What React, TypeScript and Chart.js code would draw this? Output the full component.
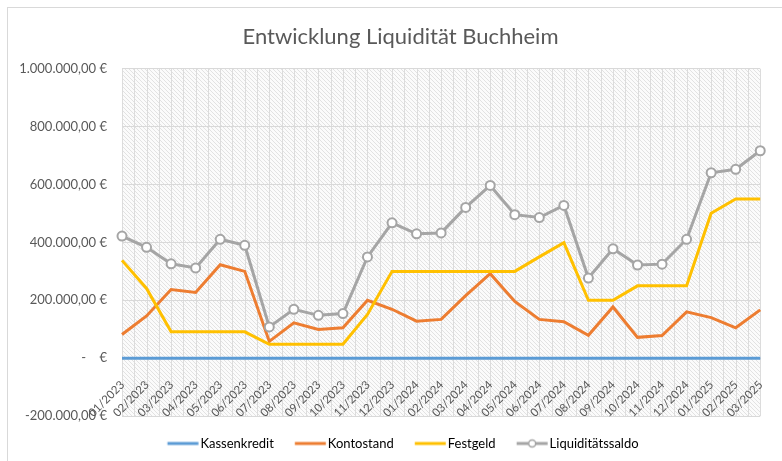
import React, { useEffect, useRef } from 'react';
import { Chart, registerables } from 'chart.js';

Chart.register(...registerables);

const chartTitle = 'Entwicklung Liquidität Buchheim';

const categories = [
  '01/2023', '02/2023', '03/2023', '04/2023', '05/2023', '06/2023', '07/2023', '08/2023', '09/2023',
  '10/2023', '11/2023', '12/2023', '01/2024', '02/2024', '03/2024', '04/2024', '05/2024', '06/2024',
  '07/2024', '08/2024', '09/2024', '10/2024', '11/2024', '12/2024', '01/2025', '02/2025', '03/2025',
];

const seriesNames = ['Kassenkredit', 'Kontostand', 'Festgeld', 'Liquiditätssaldo'];
const seriesColors = ['#5B9BD5', '#ED7D31', '#FFC000', '#A5A5A5'];

const kassenkredit = [0, 0, 0, 0, 0, 0, 0, 0, 0, 0, 0, 0, 0, 0, 0, 0, 0, 0, 0, 0, 0, 0, 0, 0, 0, 0, 0];
const kontostand = [
  82000, 146000, 237000, 227000, 323000, 300000, 58000, 122000, 99000, 105000, 200000, 169000, 128000,
  134000, 216000, 292000, 196000, 134000, 126000, 79000, 177000, 72000, 78000, 160000, 140000, 105000, 167000,
];
const festgeld = [
  338000, 241000, 91000, 91000, 91000, 91000, 48000, 48000, 48000, 48000, 151000, 300000, 300000,
  300000, 300000, 300000, 300000, 350000, 399000, 200000, 200000, 250000, 250000, 250000, 501000, 550000, 550000,
];
const liquiditaetssaldo = [
  422000, 383000, 326000, 312000, 411000, 390000, 108000, 169000, 148000, 154000, 350000, 468000, 430000,
  433000, 521000, 597000, 496000, 486000, 528000, 277000, 378000, 322000, 325000, 411000, 641000, 653000, 717000,
];

const yTickValues = [-200000, 0, 200000, 400000, 600000, 800000, 1000000];
const yTickLabels = ['-200.000,00 €', '-    €', '200.000,00 €', '400.000,00 €', '600.000,00 €', '800.000,00 €', '1.000.000,00 €'];

const FONT = 'Lato, "Open Sans", sans-serif';
const TEXT = '#595959';

// legend icon: line 31px long starting at the item's x (image centered at x + 13.25)
function makeLegendIcon(color: string, withMarker: boolean) {
  const c = document.createElement('canvas');
  c.width = 64;
  c.height = 12;
  const g = c.getContext('2d')!;
  g.strokeStyle = color;
  g.lineWidth = 3;
  g.beginPath();
  g.moveTo(18.75, 6);
  g.lineTo(49.75, 6);
  g.stroke();
  if (withMarker) {
    g.beginPath();
    g.arc(34.25, 6, 3.5, 0, Math.PI * 2);
    g.fillStyle = '#ffffff';
    g.fill();
    g.lineWidth = 1.5;
    g.stroke();
  }
  return c;
}

function makeHatch() {
  const c = document.createElement('canvas');
  c.width = 4;
  c.height = 4;
  const g = c.getContext('2d')!;
  g.fillStyle = '#fbfbfb';
  g.fillRect(0, 0, 4, 4);
  g.fillStyle = '#e2e2e2';
  for (let i = 0; i < 4; i++) g.fillRect(i, i, 1, 1);
  return c;
}

const plotBackground = {
  id: 'plotBackground',
  beforeDraw(chart: any) {
    const { ctx, chartArea } = chart;
    const { left, top, right, bottom } = chartArea;
    ctx.save();
    const pat = ctx.createPattern(makeHatch(), 'repeat');
    ctx.fillStyle = pat;
    ctx.fillRect(left, top, right - left, bottom - top);
    const xs = chart.scales.x;
    const step = (xs.getPixelForValue(1) - xs.getPixelForValue(0)) / 2;
    ctx.strokeStyle = '#dcdcdc';
    ctx.lineWidth = 1;
    for (let x = left; x <= right + 0.5; x += step) {
      const px = Math.round(x) + 0.5;
      ctx.beginPath();
      ctx.moveTo(px, top);
      ctx.lineTo(px, bottom);
      ctx.stroke();
    }
    ctx.restore();
  },
};

// The original chart is wider than the visible crop: centre title and legend as in it
const centerBoxes = {
  id: 'centerBoxes',
  afterLayout(chart: any) {
    const t = chart.titleBlock;
    if (t) {
      t.left = 0;
      t.right = 801;
    }
    const l = chart.legend;
    if (l) {
      l.left = 0;
      l.right = 806;
    }
  },
};

export default function App() {
  const ref = useRef<HTMLCanvasElement>(null);

  useEffect(() => {
    const icons = seriesColors.map((c, i) => makeLegendIcon(c, i === 3));
    const seriesData = [kassenkredit, kontostand, festgeld, liquiditaetssaldo];
    const chart = new Chart(ref.current!, {
      type: 'line',
      data: {
        labels: categories,
        datasets: seriesNames.map((name, i) => ({
          label: name,
          data: seriesData[i],
          borderColor: seriesColors[i],
          backgroundColor: i === 3 ? '#ffffff' : seriesColors[i],
          borderWidth: 3,
          pointRadius: i === 3 ? 4.5 : 0,
          pointBorderWidth: 2,
          pointBorderColor: seriesColors[i],
          pointBackgroundColor: '#ffffff',
          tension: 0,
          order: 4 - i,
        })),
      },
      options: {
        responsive: false,
        animation: false,
        layout: { padding: { left: 0, right: 4, top: 0, bottom: 1 } },
        plugins: {
          title: {
            display: true,
            text: chartTitle,
            color: TEXT,
            font: { family: FONT, size: 22, weight: 'normal' },
            padding: { top: 24, bottom: 18.5 },
          },
          legend: {
            position: 'bottom',
            labels: {
              usePointStyle: true,
              pointStyleWidth: 26.5,
              boxHeight: 13,
              padding: 21,
              color: TEXT,
              font: { family: FONT, size: 13 },
              generateLabels: (ch: any) =>
                ch.data.datasets.map((ds: any, i: number) => ({
                  text: ds.label,
                  pointStyle: icons[i],
                  fillStyle: seriesColors[i],
                  strokeStyle: seriesColors[i],
                  lineWidth: 0,
                  hidden: false,
                  datasetIndex: i,
                })),
            },
          },
          tooltip: { enabled: false },
        },
        scales: {
          x: {
            position: { y: 0 } as any,
            grid: { display: false },
            border: { display: true, color: '#d0d0d0', width: 1 },
            ticks: {
              autoSkip: false,
              minRotation: 45,
              maxRotation: 45,
              color: TEXT,
              font: { family: FONT, size: 11.5 },
              padding: 12,
              labelOffset: 0.5,
            },
          },
          y: {
            min: -200000,
            max: 1000000,
            afterBuildTicks: (s: any) => {
              s.ticks = yTickValues.map((v) => ({ value: v }));
            },
            afterFit: (s: any) => {
              s.width = 122;
            },
            grid: { color: '#d9d9d9', drawTicks: false },
            border: { display: false },
            ticks: {
              color: TEXT,
              font: { family: FONT, size: 13 },
              padding: 15,
              callback: (v: any) => {
                const idx = yTickValues.indexOf(Number(v));
                return idx >= 0 ? yTickLabels[idx] : '';
              },
            },
          },
        },
      },
      plugins: [plotBackground, centerBoxes],
    });
    return () => chart.destroy();
  }, []);

  return (
    <div style={{ position: 'fixed', left: 0, top: 0, width: 782, height: 461, overflow: 'hidden', background: '#ffffff' }}>
      <div
        style={{
          position: 'absolute',
          left: 7,
          top: 7,
          width: 820,
          height: 520,
          border: '1px solid #d9d9d9',
          boxSizing: 'border-box',
        }}
      />
      <canvas ref={ref} width={782} height={461} style={{ position: 'absolute', left: 0, top: 0, width: 782, height: 461 }} />
    </div>
  );
}
